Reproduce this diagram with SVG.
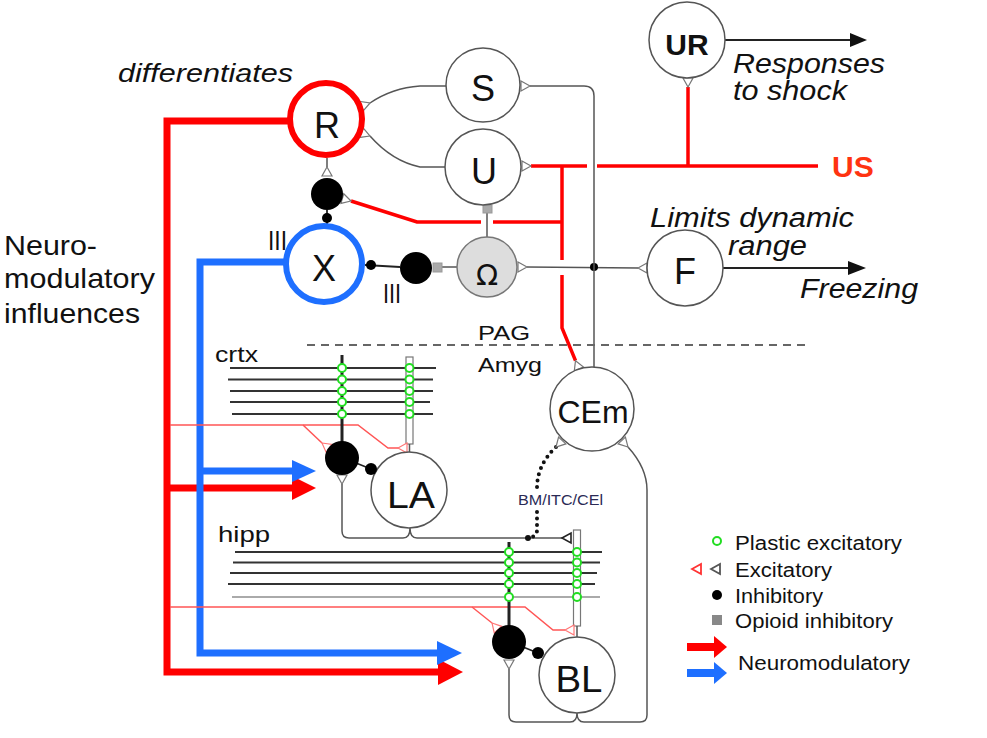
<svg xmlns="http://www.w3.org/2000/svg" width="987" height="738" viewBox="0 0 987 738">
<defs>
<style>
.t{font-family:"Liberation Sans",Arial,sans-serif;fill:#111}
.i{font-style:italic}
.lbl{font-size:36px;text-anchor:middle}
.n{fill:#fff;stroke:#555;stroke-width:1.5}
.w{fill:none;stroke:#555;stroke-width:1.5}
.blk{fill:none;stroke:#222;stroke-width:1.8}
.ex{fill:#fff;stroke:#777;stroke-width:1.2}
.exr{fill:#fff;stroke:#f77;stroke-width:1.2}
.exb{fill:#fff;stroke:#222;stroke-width:1.6}
.red{fill:none;stroke:#f00;stroke-width:3.5}
.redT{fill:none;stroke:#f00;stroke-width:7}
.bluT{fill:none;stroke:#1e6fff;stroke-width:7}
.redt{fill:none;stroke:#f55;stroke-width:1.5}
.pl{fill:#fff;stroke:#22dd22;stroke-width:2}
.fib{stroke:#333;stroke-width:2}
.dend{stroke:#222;stroke-width:3}
.op{fill:#aaa;stroke:#999;stroke-width:1}
</style>
<path id="tri" d="M0,0 L9,-5 L9,5 Z"/>
</defs>
<rect width="987" height="738" fill="#fff"/>

<g id="connectors">
  <!-- neuromodulatory thick lines -->
  <path class="redT" d="M290,121 L167,121 L167,672 L440,672"/>
  <polygon points="438,659 463,672 438,685" fill="#f00"/>
  <path class="redT" d="M167,488 L294,488"/>
  <polygon points="292,476 316,488 292,500" fill="#f00"/>
  <path class="bluT" d="M287,262 L200,262 L200,653 L440,653"/>
  <polygon points="437,641 462,653 437,665" fill="#1e6fff"/>
  <path class="bluT" d="M200,471 L294,471"/>
  <polygon points="292,460 316,471 292,482" fill="#1e6fff"/>

  <!-- gray circuit lines -->
  <path class="w" d="M370,103 Q392,88 420,86 L446,86"/>
  <path class="w" d="M370,136 Q392,161 420,167 L446,167"/>
  <path class="w" d="M327,158 L327,167"/>
  <path class="blk" d="M327,210 L327,226"/>
  <circle cx="327" cy="218" r="5" fill="#000"/>
  <path class="blk" d="M365,265 L400,267"/>
  <circle cx="371" cy="265" r="5" fill="#000"/>
  <path class="w" d="M442,267 L457,267"/>
  <rect class="op" x="433" y="263" width="9" height="9"/>
  <path class="w" d="M487,213 L487,237"/>
  <rect class="op" x="483" y="205" width="9" height="8"/>
  <path class="w" d="M527,267 L638,268"/>
  <circle cx="594" cy="267" r="4" fill="#000"/>
  <path class="w" d="M530,86 L584,86 Q594,86 594,96 L594,367"/>

  <!-- output arrows -->
  <path class="blk" d="M725,40 L852,40"/>
  <polygon points="850,33 867,40 850,47" fill="#111"/>
  <path class="blk" d="M723,268 L850,268"/>
  <polygon points="848,261 866,268 848,275" fill="#111"/>

  <!-- US red lines -->
  <path class="red" d="M531,166 L587,166"/>
  <path class="red" d="M597,166 L818,166"/>
  <path class="red" d="M688,87 L688,166"/>
  <path class="red" d="M562,166 L562,260"/>
  <path class="red" d="M562,275 L562,328 L575.5,360.7"/>
  <path class="red" d="M351,201 L417,222 L481,222"/>
  <path class="red" d="M493,222 L562,222"/>

  <!-- dashed boundary -->
  <path d="M307,345 L805,345" stroke="#666" stroke-width="2" stroke-dasharray="8,6"/>

  <!-- crtx fibers -->
  <path class="fib" d="M230,368 L436,368 M228,379.5 L433,379.5 M230,391 L433,391 M230,402 L430,402 M232,414 L433,414"/>
  <!-- hipp fibers -->
  <path class="fib" d="M235,552 L602,552 M233,562.5 L600,562.5 M230,573 L597,573 M228,584 L595,584"/>
  <path d="M232,597 L600,597" stroke="#aaa" stroke-width="2"/>

  <!-- thin red lines -->
  <path class="redt" d="M170,425 L358,425 L388,448 L400,448"/>
  <path class="redt" d="M303,425 L322,443"/>
  <path class="redt" d="M170,607 L525,607 L553,630 L565,630"/>
  <path class="redt" d="M472,607 L492,623"/>

  <!-- dendrites -->
  <path class="dend" d="M342,355 L342,442"/>
  <rect x="406" y="357" width="7" height="87" fill="#fff" stroke="#777" stroke-width="1.2"/>
  <path class="w" d="M409.5,444 L409.5,453"/>
  <path class="dend" d="M509,542 L509,626"/>
  <rect x="573.5" y="530" width="7" height="96" fill="#fff" stroke="#777" stroke-width="1.2"/>
  <path class="w" d="M577,626 L577,637"/>

  <!-- interneuron to principal cell -->
  <path class="blk" d="M356,463 L371,469"/>
  <path class="blk" d="M523,647 L538,653"/>

  <!-- LA / BL loops -->
  <path class="w" d="M342,484 L342,531 Q342,538 349,538 L403,538 Q410,538 410,528 Q410,538 417,538 L562,538"/>
  <path class="w" d="M509,669 L509,715 Q509,722 516,722 L570,722 Q577,722 577,713 Q577,722 584,722 L640,722 Q647,722 647,715 L647,490 Q647,468 628,447"/>

  <!-- BM/ITC/CEl dotted -->
  <path d="M556,447 Q537,465 537,488" fill="none" stroke="#111" stroke-width="4" stroke-linecap="round" stroke-dasharray="0,6.5"/>
  <path d="M537,512 L537,531 Q536,537 528,538" fill="none" stroke="#111" stroke-width="4" stroke-linecap="round" stroke-dasharray="0,6.5"/>

  <!-- plastic synapses -->
  <g class="pl">
    <circle cx="342" cy="368" r="4"/><circle cx="342" cy="379.5" r="4"/><circle cx="342" cy="391" r="4"/><circle cx="342" cy="402" r="4"/><circle cx="342" cy="414" r="4"/>
    <circle cx="409.5" cy="368" r="4"/><circle cx="409.5" cy="379.5" r="4"/><circle cx="409.5" cy="391" r="4"/><circle cx="409.5" cy="402" r="4"/><circle cx="409.5" cy="414" r="4"/>
    <circle cx="509" cy="552" r="4"/><circle cx="509" cy="562.5" r="4"/><circle cx="509" cy="573" r="4"/><circle cx="509" cy="584" r="4"/><circle cx="509" cy="597" r="4"/>
    <circle cx="577" cy="552" r="4"/><circle cx="577" cy="562.5" r="4"/><circle cx="577" cy="573" r="4"/><circle cx="577" cy="584" r="4"/><circle cx="577" cy="597" r="4"/>
  </g>

  <!-- excitatory synapses -->
  <use href="#tri" class="ex" transform="translate(370,103) rotate(160)"/>
  <use href="#tri" class="ex" transform="translate(370,136) rotate(201)"/>
  <use href="#tri" class="ex" transform="translate(327,167) rotate(90)"/>
  <use href="#tri" class="ex" transform="translate(351,201) rotate(196)"/>
  <use href="#tri" class="ex" transform="translate(688,87) rotate(-90)"/>
  <use href="#tri" class="ex" transform="translate(530,86) rotate(180)"/>
  <use href="#tri" class="ex" transform="translate(531,166) rotate(180)"/>
  <use href="#tri" class="ex" transform="translate(527,267) rotate(180)"/>
  <use href="#tri" class="ex" transform="translate(638,268)"/>
  <use href="#tri" class="ex" transform="translate(575.5,360.7) rotate(67.6)"/>
  <use href="#tri" class="ex" transform="translate(556,447) rotate(-46.5)"/>
  <use href="#tri" class="ex" transform="translate(628,447) rotate(226.5)"/>
  <use href="#tri" class="ex" transform="translate(342,484) rotate(-90)"/>
  <use href="#tri" class="ex" transform="translate(509,669) rotate(-90)"/>
  <use href="#tri" class="exr" transform="translate(322,443) rotate(37)"/>
  <use href="#tri" class="exr" transform="translate(398,448)"/>
  <use href="#tri" class="exr" transform="translate(492,623) rotate(48)"/>
  <use href="#tri" class="exr" transform="translate(565,630)"/>
  <use href="#tri" class="exb" transform="translate(562,538)"/>
  <circle cx="528" cy="538" r="3" fill="#111"/>
</g>

<g id="node-R">
  <circle cx="326" cy="119" r="36" fill="#fff" stroke="#f00" stroke-width="6"/>
  <text class="t lbl" x="327" y="138">R</text>
</g>
<g id="node-S">
  <circle class="n" cx="483" cy="85" r="37"/>
  <text class="t lbl" x="483" y="101">S</text>
</g>
<g id="node-U">
  <circle class="n" cx="483" cy="167" r="38"/>
  <text class="t lbl" x="484" y="184">U</text>
</g>
<g id="node-UR">
  <circle class="n" cx="687" cy="40" r="38"/>
  <text class="t" x="687" y="55" font-size="30" font-weight="bold" text-anchor="middle">UR</text>
</g>
<g id="node-X">
  <circle cx="324" cy="264" r="38" fill="#fff" stroke="#1e6fff" stroke-width="6"/>
  <text class="t lbl" x="324" y="281">X</text>
</g>
<g id="node-Omega">
  <circle cx="487" cy="267" r="30" fill="#ddd" stroke="#777" stroke-width="1.5"/>
  <text x="487" y="285" font-size="29" text-anchor="middle" font-family="'DejaVu Sans',sans-serif" fill="#111">Ω</text>
</g>
<g id="node-F">
  <circle class="n" cx="685" cy="268" r="38"/>
  <text class="t lbl" x="685" y="284">F</text>
</g>
<g id="node-CEm">
  <circle class="n" cx="592" cy="409" r="42"/>
  <text class="t" x="593" y="423" font-size="32" text-anchor="middle">CEm</text>
</g>
<g id="node-LA">
  <circle class="n" cx="409" cy="490" r="38"/>
  <text class="t lbl" x="411" y="508" textLength="48" lengthAdjust="spacingAndGlyphs">LA</text>
</g>
<g id="node-BL">
  <circle class="n" cx="577" cy="675" r="38"/>
  <text class="t lbl" x="579" y="692" textLength="47" lengthAdjust="spacingAndGlyphs">BL</text>
</g>
<g id="inh-R">
  <circle cx="327" cy="194" r="16" fill="#000"/>
</g>
<g id="inh-X">
  <circle cx="416" cy="268" r="16" fill="#000"/>
</g>
<g id="inh-LA">
  <circle cx="342" cy="458" r="17" fill="#000"/>
  <circle cx="371" cy="469" r="6" fill="#000"/>
</g>
<g id="inh-BL">
  <circle cx="509" cy="642" r="17" fill="#000"/>
  <circle cx="538" cy="653" r="6" fill="#000"/>
</g>

<g id="labels">
  <text class="t i" x="118" y="82" font-size="25" textLength="175" lengthAdjust="spacingAndGlyphs">differentiates</text>
  <text class="t i" x="733" y="73" font-size="27" textLength="152" lengthAdjust="spacingAndGlyphs">Responses</text>
  <text class="t i" x="733" y="100" font-size="27" textLength="114" lengthAdjust="spacingAndGlyphs">to shock</text>
  <text class="t" x="832" y="177" font-size="30" font-weight="bold" style="fill:#ff3311">US</text>
  <text class="t i" x="650" y="227" font-size="27" textLength="204" lengthAdjust="spacingAndGlyphs">Limits dynamic</text>
  <text class="t i" x="728" y="255" font-size="27" textLength="79" lengthAdjust="spacingAndGlyphs">range</text>
  <text class="t i" x="800" y="298" font-size="27" textLength="118" lengthAdjust="spacingAndGlyphs">Freezing</text>
  <text class="t" x="4" y="255" font-size="28" textLength="93" lengthAdjust="spacingAndGlyphs">Neuro-</text>
  <text class="t" x="4" y="288" font-size="28" textLength="151" lengthAdjust="spacingAndGlyphs">modulatory</text>
  <text class="t" x="4" y="323" font-size="28" textLength="136" lengthAdjust="spacingAndGlyphs">influences</text>
  <text class="t" x="268" y="250" font-size="28" textLength="19" lengthAdjust="spacingAndGlyphs">III</text>
  <text class="t" x="383" y="303" font-size="28" textLength="18" lengthAdjust="spacingAndGlyphs">III</text>
  <text class="t" x="478" y="340" font-size="21" textLength="52" lengthAdjust="spacingAndGlyphs">PAG</text>
  <text class="t" x="478" y="372" font-size="21" textLength="64" lengthAdjust="spacingAndGlyphs">Amyg</text>
  <text class="t" x="215" y="362" font-size="22" textLength="43" lengthAdjust="spacingAndGlyphs">crtx</text>
  <text class="t" x="218" y="542" font-size="22" textLength="52" lengthAdjust="spacingAndGlyphs">hipp</text>
  <text class="t" x="518" y="505" font-size="14" textLength="85" lengthAdjust="spacingAndGlyphs" style="fill:#2a2a55">BM/ITC/CEl</text>
</g>

<g id="legend">
  <circle class="pl" cx="717" cy="541" r="4"/>
  <text class="t" x="735" y="550" font-size="20" textLength="167" lengthAdjust="spacingAndGlyphs">Plastic excitatory</text>
  <use href="#tri" class="exr" transform="translate(692,569)" style="stroke:#f33;stroke-width:1.8"/>
  <use href="#tri" class="ex" transform="translate(711,569)" style="stroke:#555;stroke-width:1.8"/>
  <text class="t" x="735" y="577" font-size="20" textLength="97" lengthAdjust="spacingAndGlyphs">Excitatory</text>
  <circle cx="717" cy="595" r="5" fill="#000"/>
  <text class="t" x="735" y="603" font-size="20" textLength="88" lengthAdjust="spacingAndGlyphs">Inhibitory</text>
  <rect x="712" y="615" width="10" height="10" fill="#888"/>
  <text class="t" x="735" y="628" font-size="20" textLength="158" lengthAdjust="spacingAndGlyphs">Opioid inhibitory</text>
  <path d="M687,647 L716,647" stroke="#f00" stroke-width="8"/>
  <polygon points="714,636 727,647 714,658" fill="#f00"/>
  <path d="M687,673 L716,673" stroke="#1e6fff" stroke-width="8"/>
  <polygon points="714,662 727,673 714,684" fill="#1e6fff"/>
  <text class="t" x="738" y="670" font-size="20" textLength="172" lengthAdjust="spacingAndGlyphs">Neuromodulatory</text>
</g>
</svg>
